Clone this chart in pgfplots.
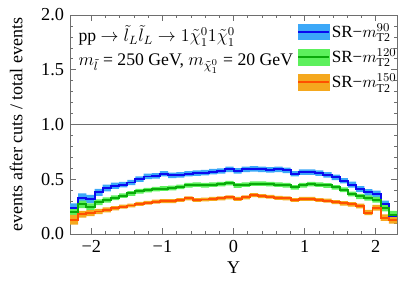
\documentclass[border=0pt]{standalone}
\usepackage{pgfplots}
\pgfplotsset{compat=1.18}
\usepackage{pgfplotstable}
\usepgfplotslibrary{fillbetween}
\usepackage{fontspec}
\setmainfont{Liberation Serif}
\definecolor{bandB}{RGB}{60,168,248}
\definecolor{lineB}{RGB}{10,10,240}
\definecolor{bandG}{RGB}{92,240,92}
\definecolor{lineG}{RGB}{10,170,10}
\definecolor{bandO}{RGB}{245,168,30}
\definecolor{lineO}{RGB}{255,80,0}
\definecolor{frame}{RGB}{110,110,110}
\pgfplotstableread{
x b be g ge o oe
-2.3 0.24 0.04 0.20 0.035 0.13 0.045
-2.185 0.33 0.04 0.27 0.035 0.18 0.03
-2.07 0.32 0.038 0.25 0.03 0.19 0.028
-1.955 0.38 0.032 0.29 0.026 0.205 0.024
-1.84 0.42 0.03 0.31 0.024 0.22 0.022
-1.725 0.44 0.028 0.33 0.022 0.235 0.02
-1.61 0.45 0.025 0.35 0.021 0.25 0.018
-1.495 0.47 0.025 0.37 0.021 0.26 0.018
-1.38 0.50 0.025 0.39 0.021 0.275 0.018
-1.265 0.525 0.025 0.40 0.021 0.285 0.018
-1.15 0.53 0.025 0.41 0.021 0.295 0.018
-1.035 0.55 0.025 0.415 0.021 0.30 0.018
-0.92 0.535 0.025 0.42 0.021 0.30 0.018
-0.805 0.54 0.025 0.43 0.021 0.31 0.018
-0.69 0.55 0.025 0.445 0.021 0.325 0.018
-0.575 0.555 0.025 0.45 0.021 0.31 0.018
-0.46 0.56 0.025 0.445 0.021 0.315 0.018
-0.345 0.57 0.025 0.45 0.021 0.32 0.018
-0.23 0.575 0.025 0.455 0.021 0.325 0.018
-0.115 0.59 0.025 0.465 0.021 0.334 0.018
0 0.577 0.025 0.443 0.021 0.32 0.018
0.115 0.59 0.025 0.45 0.021 0.335 0.018
0.23 0.595 0.025 0.46 0.021 0.355 0.018
0.345 0.59 0.025 0.46 0.021 0.345 0.018
0.46 0.585 0.025 0.455 0.021 0.34 0.018
0.575 0.59 0.025 0.45 0.021 0.33 0.018
0.69 0.58 0.025 0.445 0.021 0.325 0.018
0.805 0.55 0.025 0.425 0.021 0.31 0.018
0.92 0.565 0.025 0.445 0.021 0.32 0.018
1.035 0.565 0.025 0.455 0.021 0.32 0.018
1.15 0.556 0.025 0.45 0.021 0.31 0.018
1.265 0.54 0.025 0.443 0.021 0.305 0.018
1.38 0.516 0.025 0.425 0.021 0.29 0.018
1.495 0.486 0.025 0.404 0.021 0.28 0.02
1.61 0.45 0.027 0.365 0.022 0.27 0.02
1.725 0.41 0.027 0.343 0.024 0.255 0.022
1.84 0.38 0.03 0.328 0.024 0.195 0.024
1.955 0.365 0.032 0.313 0.026 0.24 0.026
2.07 0.27 0.035 0.237 0.03 0.15 0.03
2.185 0.16 0.04 0.176 0.035 0.13 0.035
2.3 0.16 0.04 0.176 0.035 0.13 0.035
}\data
\begin{document}
\begin{tikzpicture}
\begin{axis}[
  scale only axis, width=218pt, height=146pt,
  xmin=-2.3, xmax=2.3, ymin=0, ymax=2.0,
  axis line style={frame},
  every tick/.style={frame},
  tick align=inside,
  xtick={-2,-1,0,1,2},
  xticklabels={−2,−1,0,1,2},
  minor x tick num=4,
  ytick={0,0.5,1,1.5,2},
  yticklabels={0.0,0.5,1.0,1.5,2.0},
  minor y tick num=4,
  major tick length=4pt, minor tick length=2pt,
  xtick pos=both, ytick pos=both,
  xticklabel pos=lower, yticklabel pos=left,
  tick label style={font=\fontsize{12.2}{14}\selectfont},
  xticklabel style={yshift=-1pt},
  yticklabel style={xshift=-0.5pt},
  xlabel={Y}, ylabel={events after cuts / total events},
  label style={font=\fontsize{12}{14}\selectfont},
  xlabel style={at={(axis description cs:0.5,-0.155)}, anchor=center},
  ylabel style={at={(axis description cs:-0.165,0.5)}, anchor=center},
  legend style={draw=none, fill=none, at={(axis description cs:0.694,0.97)}, anchor=north west,
    row sep=3.5pt, font=\fontsize{11.4}{13}\selectfont, inner sep=0pt,
    nodes={inner sep=1.3pt}},
  legend cell align=left,
  clip=true,
]
\addplot[const plot, draw=none, name path=bu, forget plot] table[x=x, y expr=\thisrow{b}+\thisrow{be}] {\data};
\addplot[const plot, draw=none, name path=bl, forget plot] table[x=x, y expr=\thisrow{b}-\thisrow{be}] {\data};
\addplot[fill=bandB, draw=none, forget plot] fill between[of=bu and bl];
\addplot[const plot, draw=none, name path=gu, forget plot] table[x=x, y expr=\thisrow{g}+\thisrow{ge}] {\data};
\addplot[const plot, draw=none, name path=gl, forget plot] table[x=x, y expr=\thisrow{g}-\thisrow{ge}] {\data};
\addplot[fill=bandG, draw=none, forget plot] fill between[of=gu and gl];
\addplot[const plot, draw=none, name path=ou, forget plot] table[x=x, y expr=\thisrow{o}+\thisrow{oe}] {\data};
\addplot[const plot, draw=none, name path=ol, forget plot] table[x=x, y expr=\thisrow{o}-\thisrow{oe}] {\data};
\addplot[fill=bandO, draw=none, forget plot] fill between[of=ou and ol];
\addplot[const plot, lineB, line width=1.3pt, forget plot] table[x=x, y=b] {\data};
\addplot[const plot, lineG, line width=1.3pt, forget plot] table[x=x, y=g] {\data};
\addplot[const plot, lineO, line width=1.3pt, forget plot] table[x=x, y=o] {\data};
\addplot[frame, line width=0.8pt, forget plot] coordinates {(-2.3,1) (2.3,1)};
\addlegendimage{legend image code/.code={\fill[bandB] (0pt,-5.3pt) rectangle (20.7pt,5.3pt); \draw[lineB, line width=1pt] (0pt,0pt) -- (20.7pt,0pt);}}
\addlegendentry{SR−$m_{\mathrm{T2}}^{90}$}
\addlegendimage{legend image code/.code={\fill[bandG] (0pt,-5.3pt) rectangle (20.7pt,5.3pt); \draw[lineG, line width=1pt] (0pt,0pt) -- (20.7pt,0pt);}}
\addlegendentry{SR−$m_{\mathrm{T2}}^{120}$}
\addlegendimage{legend image code/.code={\fill[bandO] (0pt,-5.3pt) rectangle (20.7pt,5.3pt); \draw[lineO, line width=1pt] (0pt,0pt) -- (20.7pt,0pt);}}
\addlegendentry{SR−$m_{\mathrm{T2}}^{150}$}
\node[anchor=north west, align=left, font=\fontsize{11.8}{16}\selectfont, inner sep=0pt] at (axis description cs:0.025,0.955)
  {pp $\rightarrow \tilde{l}_L\tilde{l}_L \rightarrow 1\tilde{\chi}^0_1 1\tilde{\chi}^0_1$\\
   $m_{\tilde{l}}$ = 250 GeV, $m_{\tilde{\chi}^0_1}$ = 20 GeV};
\end{axis}
\path ([xshift=-46.7pt,yshift=-35.4pt]current axis.south west) rectangle ([xshift=12pt,yshift=10pt]current axis.north east);
\end{tikzpicture}
\end{document}
